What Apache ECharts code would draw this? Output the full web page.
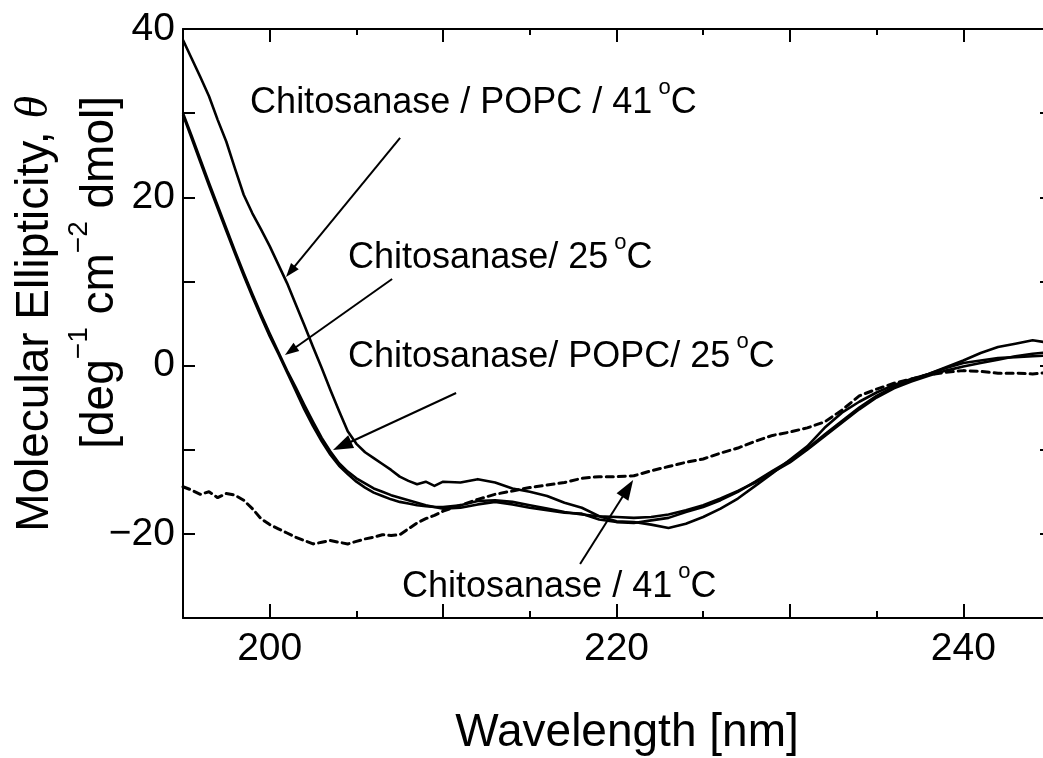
<!DOCTYPE html>
<html>
<head>
<meta charset="utf-8">
<script src="https://cdn.jsdelivr.net/npm/echarts@6/dist/echarts.min.js"></script>
<style>
  html, body { margin: 0; padding: 0; background: #fff; }
  #chart { width: 1043px; height: 758px; }
</style>
</head>
<body>
<div id="chart"></div>
<script>
// wavelength [nm]
const wavelength = [
  195, 195.5, 196, 196.5, 197, 197.5, 198, 198.5, 199, 199.5,
  200, 200.5, 201, 201.5, 202, 202.5, 203, 203.5, 204, 204.5,
  205, 205.5, 206, 206.5, 207, 207.5, 208, 208.5, 209, 209.5,
  210, 211, 212, 213, 214, 215, 216, 217, 218, 219,
  220, 221, 222, 223, 224, 225, 226, 227, 228, 229,
  230, 231, 232, 233, 234, 235, 236, 237, 238, 239,
  240, 241, 242, 243, 244, 245
];
// Chitosanase / POPC / 41 C
const popc41 = [
  38.7, 36.5, 34.3, 32.0, 29.2, 26.6, 23.4, 20.3, 18.1, 16.2,
  14.2, 12.0, 9.8, 7.3, 4.8, 2.2, -0.3, -2.9, -5.4, -7.8,
  -9.3, -10.3, -11.0, -11.7, -12.4, -13.2, -13.7, -14.1, -13.8, -14.3,
  -13.8, -13.9, -13.5, -13.9, -14.6, -15.0, -15.5, -16.3, -16.9, -17.9,
  -18.5, -18.6, -18.9, -19.3, -18.8, -18.0, -17.0, -15.8, -14.3, -12.8,
  -11.2, -9.6, -7.4, -5.6, -4.3, -3.2, -2.3, -1.6, -1.0, -0.2,
  0.6, 1.5, 2.2, 2.6, 3.0, 2.7
];
// Chitosanase / 25 C
const buffer25 = [
  29.8, 27.0, 24.2, 21.4, 18.7, 16.0, 13.3, 10.7, 8.2, 5.8,
  3.5, 1.4, -0.8, -3.0, -5.2, -7.2, -9.0, -10.6, -11.9, -12.9,
  -13.8, -14.5, -15.1, -15.5, -15.9, -16.2, -16.4, -16.6, -16.7, -16.8,
  -16.8, -16.6, -16.1, -16.0, -16.2, -16.6, -17.0, -17.4, -17.7, -17.9,
  -18.0, -18.1, -18.0, -17.7, -17.2, -16.6, -15.8, -14.9, -13.9, -12.7,
  -11.5, -10.0, -8.4, -6.8, -5.2, -3.8, -2.7, -1.9, -1.2, -0.6,
  -0.1, 0.3, 0.7, 1.1, 1.4, 1.6
];
// Chitosanase / POPC / 25 C
const popc25 = [
  30.0, 27.3, 24.5, 21.7, 19.0, 16.3, 13.6, 11.0, 8.5, 6.1,
  3.8, 1.6, -0.6, -2.6, -4.7, -6.7, -8.6, -10.2, -11.6, -12.6,
  -13.4, -14.0, -14.6, -15.0, -15.4, -15.7, -16.0, -16.3, -16.6, -16.8,
  -17.0, -16.9, -16.5, -16.2, -16.5, -16.9, -17.2, -17.5, -17.6, -18.3,
  -18.6, -18.7, -18.4, -18.1, -17.4, -16.8, -16.0, -15.0, -13.8, -12.5,
  -11.3, -9.9, -8.2, -6.6, -5.0, -3.6, -2.5, -1.7, -1.0, -0.3,
  0.3, 0.6, 0.9, 1.0, 1.1, 1.2
];
// Chitosanase / 41 C (dashed)
const buffer41 = [
  -14.4, -14.8, -15.3, -15.0, -15.7, -15.2, -15.4, -16.0, -17.0, -18.2,
  -18.9, -19.4, -19.9, -20.4, -20.8, -21.2, -21.0, -20.8, -21.0, -21.2,
  -20.9, -20.6, -20.4, -20.1, -20.2, -20.1, -19.4, -18.7, -18.2, -17.8,
  -17.3, -16.6, -15.9, -15.3, -14.9, -14.5, -14.2, -13.9, -13.4, -13.2,
  -13.2, -13.1, -12.5, -12.0, -11.5, -11.1, -10.4, -9.8, -9.0, -8.3,
  -7.9, -7.4, -6.7, -5.3, -3.6, -2.8, -2.1, -1.6, -1.1, -0.8,
  -0.6, -0.7, -0.9, -0.9, -1.0, -0.8
];

const xMajorTicks = [200, 210, 220, 230, 240];
const xMinorTicks = [195, 205, 215, 225, 235, 245];
const xTickLabels = [200, 220, 240];
const yTickLabels = [40, 20, 0, -20];

// labels: left edge / cap centre, in data units
const annotations = [
  { text: '{b|Chitosanase / POPC / 41}{o| o}{b|C}', at: [198.87, 31.2] },
  { text: '{b|Chitosanase/ 25}{o| o}{b|C}', at: [204.52, 12.78] },
  { text: '{b|Chitosanase/ POPC/ 25}{o| o}{b|C}', at: [204.52, 1.02] },
  { text: '{b|Chitosanase / 41}{o| o}{b|C}', at: [207.63, -26.3] }
];
const arrows = [
  { from: [207.52, 27.05], to: [200.94, 10.53], head: 14, half: 5 },
  { from: [207.06, 10.29], to: [200.88, 1.26], head: 14, half: 5 },
  { from: [210.75, -3.26], to: [203.65, -10.04], head: 20, half: 7 },
  { from: [217.9, -23.58], to: [220.96, -13.6], head: 20, half: 7 }
];

const FONT = '"Liberation Sans", Arial, Helvetica, sans-serif';
const toPairs = (ys) => wavelength.map((w, i) => [w, ys[i]]);

const baseX = {
  type: 'value', min: 195, max: 245, interval: 5,
  splitLine: { show: false },
  axisLine: { show: false, onZero: false },
  axisLabel: { show: false },
  axisTick: { show: false }
};
const baseY = {
  type: 'value', min: -30, max: 40, interval: 10,
  splitLine: { show: false },
  axisLine: { show: true, onZero: false, lineStyle: { color: '#000', width: 2 } },
  axisTick: { show: true, inside: true, length: 12, lineStyle: { color: '#000', width: 2 } },
  axisLabel: { show: false }
};

const option = {
  animation: false,
  backgroundColor: '#fff',
  grid: { left: 183, right: -7, top: 29, bottom: 140, containLabel: false, outerBoundsMode: 'none' },
  xAxis: [
    {
      ...baseX, position: 'bottom',
      axisLine: { show: true, onZero: false, lineStyle: { color: '#000', width: 2 } },
      axisTick: { show: true, inside: true, length: 14, customValues: xMajorTicks, lineStyle: { color: '#000', width: 2 } },
      axisLabel: { show: true, customValues: xTickLabels, margin: 12, color: '#000', fontSize: 39, fontFamily: FONT }
    },
    {
      ...baseX, position: 'bottom',
      axisTick: { show: true, inside: true, length: 7, customValues: xMinorTicks, lineStyle: { color: '#000', width: 2 } }
    },
    {
      ...baseX, position: 'top',
      axisLine: { show: true, onZero: false, lineStyle: { color: '#000', width: 2 } },
      axisTick: { show: true, inside: true, length: 13, customValues: xMajorTicks, lineStyle: { color: '#000', width: 2 } }
    },
    {
      ...baseX, position: 'top',
      axisTick: { show: true, inside: true, length: 6, customValues: xMinorTicks, lineStyle: { color: '#000', width: 2 } }
    }
  ],
  yAxis: [
    {
      ...baseY, position: 'left',
      axisLabel: {
        show: true, margin: 8, color: '#000', fontSize: 39, fontFamily: FONT,
        formatter: (v) => (yTickLabels.includes(v) ? String(v).replace('-', '\u2212') : '')
      }
    },
    { ...baseY, position: 'right', axisTick: { ...baseY.axisTick, length: 10 } }
  ],
  series: [
    { name: 'POPC 41', data: toPairs(popc41) },
    { name: '25', data: toPairs(buffer25) },
    { name: 'POPC 25', data: toPairs(popc25) },
    { name: '41', data: toPairs(buffer41), dashed: true }
  ].map((s) => ({
    type: 'line', name: s.name, data: s.data,
    showSymbol: false, symbol: 'none', smooth: false,
    lineStyle: s.dashed
      ? { color: '#000', width: 3, type: [7, 5], cap: 'round' }
      : { color: '#000', width: 2.6, join: 'round' },
    emphasis: { disabled: true }
  }))
};

const chart = echarts.init(document.getElementById('chart'));
chart.setOption(option);

const toPx = (p) => chart.convertToPixel({ seriesIndex: 0 }, p);
const graphics = [];

annotations.forEach((a) => {
  const [px, py] = toPx(a.at);
  graphics.push({
    type: 'text', x: px, y: py - 4, silent: true,
    style: {
      text: a.text, align: 'left', verticalAlign: 'middle', fill: '#000',
      rich: {
        b: { fontSize: 36, fontFamily: FONT, lineHeight: 44, verticalAlign: 'bottom', fill: '#000' },
        o: { fontSize: 22, fontFamily: FONT, lineHeight: 30, verticalAlign: 'top', fill: '#000' }
      }
    }
  });
});

arrows.forEach((a) => {
  const [x0, y0] = toPx(a.from);
  const [x1, y1] = toPx(a.to);
  const len = Math.hypot(x1 - x0, y1 - y0);
  const dx = (x1 - x0) / len, dy = (y1 - y0) / len;
  const bx = x1 - dx * a.head, by = y1 - dy * a.head;
  graphics.push({
    type: 'line', silent: true,
    shape: { x1: x0, y1: y0, x2: bx + dx * 2, y2: by + dy * 2 },
    style: { stroke: '#000', lineWidth: 2 }
  });
  graphics.push({
    type: 'polygon', silent: true,
    shape: { points: [[x1, y1], [bx - dy * a.half, by + dx * a.half], [bx + dy * a.half, by - dx * a.half]] },
    style: { fill: '#000' }
  });
});

// axis titles
graphics.push({
  type: 'text', x: 627, y: 733, silent: true,
  style: { text: 'Wavelength [nm]', align: 'center', verticalAlign: 'middle', fontSize: 46, fontFamily: FONT, fill: '#000' }
});
graphics.push({
  type: 'text', x: 35, y: 96, rotation: Math.PI / 2, silent: true,
  style: {
    text: '{b|Molecular Ellipticity, }{t|\u03b8}', align: 'right', verticalAlign: 'middle', fill: '#000',
    rich: {
      b: { fontSize: 46, fontFamily: FONT, lineHeight: 46, fill: '#000' },
      t: { fontSize: 46, fontFamily: '"Liberation Serif", "DejaVu Serif", serif', fontStyle: 'italic', lineHeight: 46, fill: '#000' }
    }
  }
});
graphics.push({
  type: 'text', x: 94, y: 96, rotation: Math.PI / 2, silent: true,
  style: {
    text: '{b|[deg}{s|\u22121}{b| cm}{s|\u22122}{b| dmol]}', align: 'right', verticalAlign: 'middle', fill: '#000',
    rich: {
      b: { fontSize: 46, fontFamily: FONT, lineHeight: 58, verticalAlign: 'bottom', fill: '#000' },
      s: { fontSize: 28, fontFamily: FONT, lineHeight: 28, verticalAlign: 'top', fill: '#000' }
    }
  }
});

chart.setOption({ graphic: graphics });
</script>
</body>
</html>
